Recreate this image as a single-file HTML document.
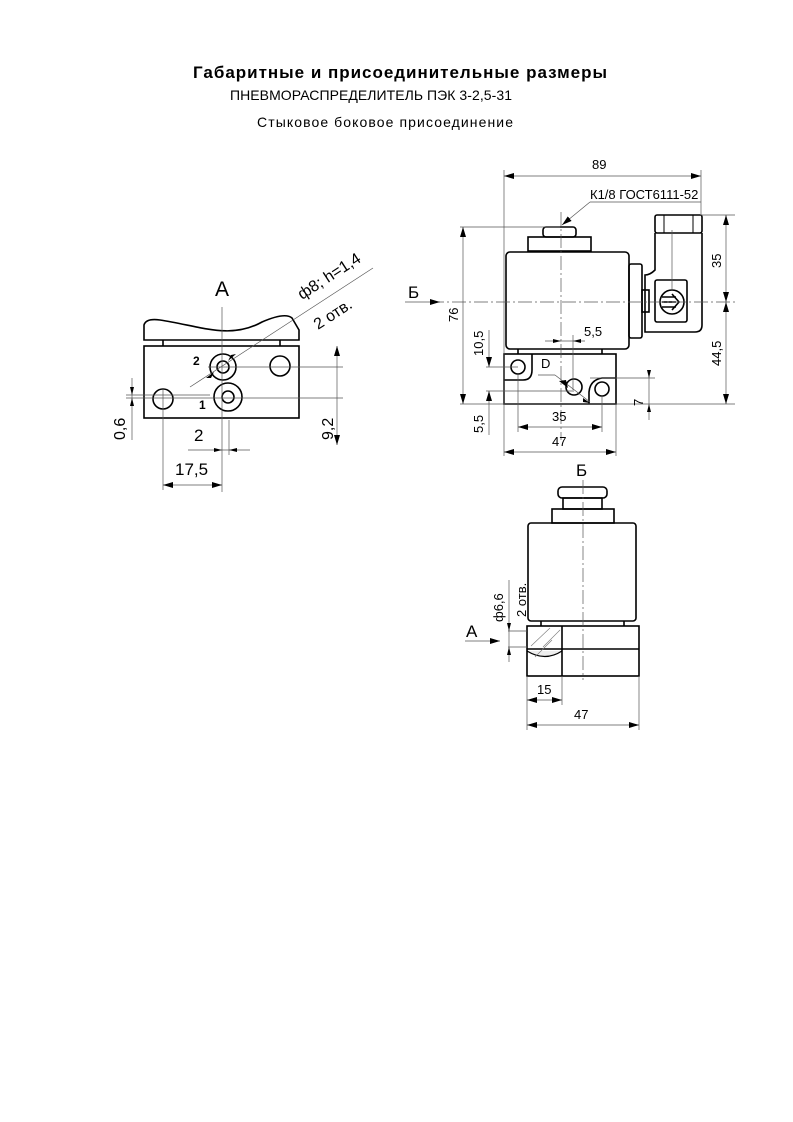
<!DOCTYPE html>
<html><head><meta charset="utf-8"><style>
html,body{margin:0;padding:0;background:#fff}
svg{display:block}
text{font-family:"Liberation Sans","DejaVu Sans",sans-serif;fill:#000}
.d{font-size:13px}
</style></head><body>
<svg width="793" height="1122" viewBox="0 0 793 1122" xmlns="http://www.w3.org/2000/svg">
<defs>
<marker id="a" viewBox="0 0 10 6" refX="10" refY="3" markerWidth="10" markerHeight="6" orient="auto-start-reverse" markerUnits="userSpaceOnUse"><path d="M0,0 L10,3 L0,6 z" fill="#000"/></marker>
</defs>
<text x="400" y="78" text-anchor="middle" font-size="17" font-weight="bold" textLength="414">Габаритные и присоединительные размеры</text>
<text x="230" y="100" font-size="14" textLength="282">ПНЕВМОРАСПРЕДЕЛИТЕЛЬ ПЭК 3-2,5-31</text>
<text x="257" y="127" font-size="14" textLength="256">Стыковое боковое присоединение</text>

<!-- View A -->
<g fill="none" stroke="#000" stroke-width="1.6">
<path d="M144,340 L144,325 Q146,318 160,320 C200,326 230,340 262,322 Q285,312 292,318 L299,330 L299,340 Z"/>
<rect x="144" y="346" width="155" height="72"/>
<line x1="163" y1="340" x2="163" y2="346"/><line x1="280" y1="340" x2="280" y2="346"/>
<circle cx="223" cy="367" r="13"/><circle cx="223" cy="367" r="6"/>
<circle cx="228" cy="397" r="14"/><circle cx="228" cy="397" r="6"/>
<circle cx="280" cy="366" r="10"/>
<circle cx="163" cy="399" r="10"/>
</g>
<g stroke="#555" stroke-width="0.7" fill="none">
<line x1="222" y1="307" x2="222" y2="492"/>
<line x1="229" y1="420" x2="229" y2="455"/>
<line x1="208" y1="367" x2="343" y2="367"/>
<line x1="126" y1="398" x2="343" y2="398"/>
<line x1="126" y1="395" x2="210" y2="395"/>
<line x1="163" y1="388" x2="163" y2="490"/>
<line x1="373" y1="268" x2="190" y2="387"/>
<line x1="337" y1="346" x2="337" y2="445" marker-start="url(#a)" marker-end="url(#a)"/>
<line x1="132" y1="378" x2="132" y2="440"/>
<line x1="188" y1="450" x2="250" y2="450"/>
<line x1="163" y1="485" x2="222" y2="485" marker-start="url(#a)" marker-end="url(#a)"/>
</g>
<path d="M236,354 l-8,7 l3,-6 z M206,378 l8,-6 l-3,6 z" fill="#000"/>
<path d="M222,450 l-8,-2 v4 z M229,450 l8,-2 v4 z M132,395 l-2,-8 h4 z M132,398 l-2,8 h4 z" fill="#000"/>
<text x="215" y="296" font-size="21">A</text>
<text x="193" y="365" font-size="12" font-weight="bold">2</text>
<text x="199" y="409" font-size="12" font-weight="bold">1</text>
<text x="0" y="0" font-size="16" transform="translate(302,300) rotate(-33)">ф8; h=1,4</text>
<text x="0" y="0" font-size="16" transform="translate(318,330) rotate(-33)">2 отв.</text>
<text x="0" y="0" font-size="16" transform="translate(125,440) rotate(-90)">0,6</text>
<text x="0" y="0" font-size="16" transform="translate(333,440) rotate(-90)">9,2</text>
<text x="194" y="441" font-size="17">2</text>
<text x="175" y="475" font-size="17">17,5</text>

<!-- Front view -->
<g fill="none" stroke="#000" stroke-width="1.6">
<rect x="543" y="227" width="33" height="10" rx="3"/>
<rect x="528" y="237" width="63" height="14"/>
<rect x="506" y="252" width="123" height="97" rx="4"/>
<rect x="629" y="264" width="13" height="74" rx="2"/>
<rect x="642" y="290" width="7" height="22"/>
<rect x="655" y="215" width="47" height="18" rx="2"/>
<path d="M655,233 V270 Q650,275 645,275 V332 H695 Q702,332 702,325 V233"/>
<rect x="655" y="280" width="32" height="42" rx="2"/>
<circle cx="672" cy="302" r="12"/>
<path d="M662,297 h14 M662,302 h14 M662,307 h14 M672,294 l7,8 l-7,8"/>
<rect x="504" y="354" width="112" height="50"/>
<line x1="518" y1="349" x2="518" y2="354"/><line x1="602" y1="349" x2="602" y2="354"/>
<circle cx="518" cy="367" r="7"/>
<path d="M504,380 H523 Q532,380 532,370 V354"/>
<circle cx="574" cy="387" r="8"/>
<circle cx="602" cy="389" r="7"/>
<path d="M589,404 V392 Q590,380 602,378 H616"/>
<line x1="664" y1="215" x2="664" y2="233" stroke-width="1"/><line x1="693" y1="215" x2="693" y2="233" stroke-width="1"/>
</g>
<g stroke="#555" stroke-width="0.7" fill="none">
<line x1="504" y1="176" x2="701" y2="176" marker-start="url(#a)" marker-end="url(#a)"/>
<line x1="504" y1="170" x2="504" y2="456"/>
<line x1="701" y1="170" x2="701" y2="215"/>
<polyline points="590,202 701,202"/>
<line x1="590" y1="202" x2="562" y2="225" marker-end="url(#a)"/>
<line x1="561" y1="212" x2="561" y2="440" stroke-dasharray="14,3,2,3"/>
<line x1="430" y1="302" x2="735" y2="302" stroke-dasharray="14,3,2,3"/>
<line x1="672" y1="230" x2="672" y2="290"/>
<line x1="460" y1="227" x2="560" y2="227"/>
<line x1="460" y1="404" x2="735" y2="404"/>
<line x1="700" y1="215" x2="735" y2="215"/>
<line x1="463" y1="227" x2="463" y2="404" marker-start="url(#a)" marker-end="url(#a)"/>
<line x1="726" y1="215" x2="726" y2="302" marker-start="url(#a)" marker-end="url(#a)"/>
<line x1="726" y1="302" x2="726" y2="404" marker-start="url(#a)" marker-end="url(#a)"/>
<line x1="405" y1="302" x2="440" y2="302" marker-end="url(#a)"/>
<line x1="486" y1="367" x2="518" y2="367"/>
<line x1="486" y1="391" x2="574" y2="391"/>
<line x1="489" y1="330" x2="489" y2="367" marker-end="url(#a)"/>
<line x1="489" y1="391" x2="489" y2="435" marker-start="url(#a)"/>
<line x1="545" y1="341" x2="585" y2="341"/>
<line x1="573" y1="335" x2="573" y2="390"/>
<path d="M561,341 l-8,-2 v4 z M573,341 l8,-2 v4 z" fill="#000" stroke="none"/>
<line x1="538" y1="375" x2="555" y2="375"/>
<line x1="555" y1="375" x2="590" y2="402"/>
<line x1="590" y1="378" x2="655" y2="378"/>
<line x1="649" y1="372" x2="649" y2="420"/>
<path d="M649,378 l-2,-8 h4 z M649,404 l-2,8 h4 z" fill="#000" stroke="none"/>
<line x1="518" y1="375" x2="518" y2="432"/>
<line x1="602" y1="395" x2="602" y2="432"/>
<line x1="518" y1="427" x2="602" y2="427" marker-start="url(#a)" marker-end="url(#a)"/>
<line x1="616" y1="404" x2="616" y2="456"/>
<line x1="504" y1="452" x2="616" y2="452" marker-start="url(#a)" marker-end="url(#a)"/>
</g>
<path d="M568,388 l-9,-7 l7,-1 z M583,398 l7,5 l-7,-1 z" fill="#000"/>
<text class="d" x="592" y="169" font-size="14">89</text>
<text x="590" y="199" font-size="13">К1/8 ГОСТ6111-52</text>
<text x="408" y="298" font-size="17">Б</text>
<text class="d" transform="translate(458,322) rotate(-90)" font-size="14">76</text>
<text class="d" transform="translate(721,268) rotate(-90)">35</text>
<text class="d" transform="translate(721,366) rotate(-90)">44,5</text>
<text class="d" transform="translate(483,356) rotate(-90)">10,5</text>
<text class="d" transform="translate(483,433) rotate(-90)">5,5</text>
<text class="d" transform="translate(643,406) rotate(-90)">7</text>
<text class="d" x="584" y="336">5,5</text>
<text class="d" x="541" y="368">D</text>
<text class="d" x="552" y="421">35</text>
<text class="d" x="552" y="446">47</text>

<!-- View Б -->
<g fill="none" stroke="#000" stroke-width="1.6">
<rect x="558" y="487" width="49" height="11" rx="4"/>
<rect x="563" y="498" width="39" height="11"/>
<rect x="552" y="509" width="62" height="14"/>
<rect x="528" y="523" width="108" height="98" rx="3"/>
<line x1="541" y1="621" x2="541" y2="626"/><line x1="624" y1="621" x2="624" y2="626"/>
<rect x="527" y="626" width="112" height="50"/>
<line x1="527" y1="649" x2="639" y2="649"/>
<line x1="562" y1="626" x2="562" y2="676"/>
<path d="M527,651 Q545,662 562,651" stroke-width="1.2" fill="#eee"/>
</g>
<g stroke="#777" stroke-width="0.6">
<line x1="531" y1="646" x2="550" y2="628"/><line x1="543" y1="647" x2="560" y2="630"/><line x1="535" y1="657" x2="552" y2="640"/>
</g>
<g stroke="#555" stroke-width="0.7" fill="none">
<line x1="583" y1="480" x2="583" y2="680" stroke-dasharray="14,3,2,3"/>
<line x1="508" y1="631" x2="527" y2="631"/>
<line x1="508" y1="647" x2="527" y2="647"/>
<line x1="509" y1="580" x2="509" y2="662"/>
<path d="M509,631 l-2,-8 h4 z M509,647 l-2,8 h4 z" fill="#000" stroke="none"/>
<line x1="465" y1="641" x2="500" y2="641" marker-end="url(#a)"/>
<line x1="527" y1="676" x2="527" y2="730"/>
<line x1="562" y1="676" x2="562" y2="705"/>
<line x1="639" y1="676" x2="639" y2="730"/>
<line x1="527" y1="700" x2="562" y2="700" marker-start="url(#a)" marker-end="url(#a)"/>
<line x1="527" y1="725" x2="639" y2="725" marker-start="url(#a)" marker-end="url(#a)"/>
</g>
<text x="576" y="476" font-size="17">Б</text>
<text x="466" y="637" font-size="17">A</text>
<text class="d" transform="translate(503,622) rotate(-90)" font-size="12">ф6,6</text>
<text class="d" transform="translate(526,617) rotate(-90)" font-size="12">2 отв.</text>
<text class="d" x="537" y="694">15</text>
<text class="d" x="574" y="719">47</text>
</svg>
</body></html>
